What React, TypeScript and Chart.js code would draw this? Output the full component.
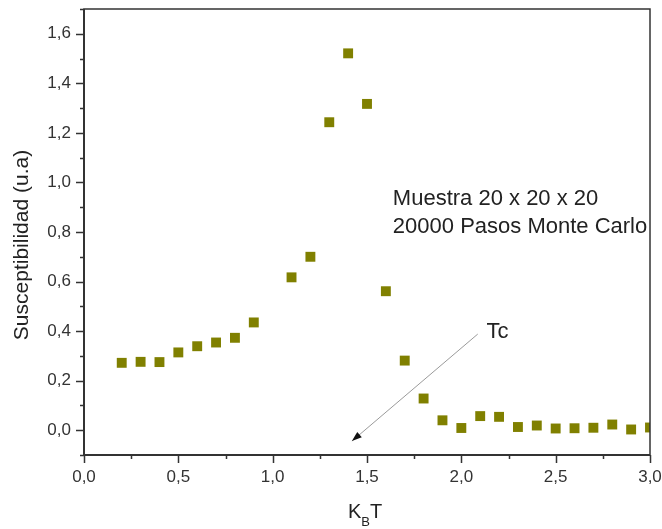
import React, { useEffect, useRef } from "react";
import { Chart, registerables } from "chart.js";

Chart.register(...registerables);

// Reduced temperature k_B T for each simulation run
const temperatures = [
  0.2, 0.3, 0.4, 0.5, 0.6, 0.7, 0.8, 0.9, 1.1, 1.2, 1.3, 1.4, 1.5, 1.6,
  1.7, 1.8, 1.9, 2.0, 2.1, 2.2, 2.3, 2.4, 2.5, 2.6, 2.7, 2.8, 2.9, 3.0,
];

// Magnetic susceptibility (arbitrary units)
const susceptibility = [
  0.272, 0.276, 0.275, 0.314, 0.339, 0.354, 0.373, 0.435, 0.617, 0.7,
  1.243, 1.521, 1.317, 0.561, 0.281, 0.128, 0.04, 0.009, 0.057, 0.054,
  0.013, 0.019, 0.007, 0.008, 0.01, 0.023, 0.003, 0.011,
];

const xRange = [0, 3];
const yRange = [-0.1, 1.7];

const noteLines = ["Muestra 20 x 20 x 20", "20000 Pasos Monte Carlo"];
const arrowLabel = "Tc";
const yTitle = "Susceptibilidad (u.a)";

const FONT = "'Liberation Sans', Arial, sans-serif";
const TEXT = "#222";
const MARKER = "#808000";

const fmt = (v: number) => v.toFixed(1).replace(".", ",");

// Frame, outward major/minor ticks and text annotations
const decorations = {
  id: "decorations",
  afterDraw(chart: any) {
    const { ctx, chartArea: a, scales } = chart;
    const xs = scales.x;
    const ys = scales.y;
    ctx.save();

    // frame
    ctx.strokeStyle = "#333";
    ctx.lineWidth = 1.5;
    ctx.strokeRect(a.left, a.top, a.right - a.left, a.bottom - a.top);
    ctx.lineWidth = 2;
    ctx.beginPath();
    ctx.moveTo(a.left, a.top);
    ctx.lineTo(a.left, a.bottom);
    ctx.lineTo(a.right, a.bottom);
    ctx.stroke();

    // y ticks
    ctx.lineWidth = 1.5;
    ctx.beginPath();
    ys.ticks.forEach((t: any) => {
      const k = Math.round(t.value * 10);
      const len = k % 2 === 0 ? 8 : 4;
      const py = Math.round(ys.getPixelForValue(t.value)) + 0.5;
      ctx.moveTo(a.left, py);
      ctx.lineTo(a.left - len, py);
    });
    // x ticks
    xs.ticks.forEach((t: any) => {
      const k = Math.round(t.value * 4);
      const len = k % 2 === 0 ? 8 : 4;
      const px = Math.round(xs.getPixelForValue(t.value)) + 0.5;
      ctx.moveTo(px, a.bottom);
      ctx.lineTo(px, a.bottom + len);
    });
    ctx.stroke();

    // arrow toward the critical temperature
    const x0 = xs.getPixelForValue(2.087);
    const y0 = ys.getPixelForValue(0.388);
    const x1 = xs.getPixelForValue(1.42);
    const y1 = ys.getPixelForValue(-0.044);
    ctx.strokeStyle = "#9a9a9a";
    ctx.lineWidth = 1;
    ctx.beginPath();
    ctx.moveTo(x0, y0);
    ctx.lineTo(x1, y1);
    ctx.stroke();
    const ang = Math.atan2(y1 - y0, x1 - x0);
    const hl = 10;
    const hw = 3.5;
    ctx.fillStyle = "#111";
    ctx.beginPath();
    ctx.moveTo(x1, y1);
    ctx.lineTo(
      x1 - hl * Math.cos(ang) + hw * Math.sin(ang),
      y1 - hl * Math.sin(ang) - hw * Math.cos(ang)
    );
    ctx.lineTo(
      x1 - hl * Math.cos(ang) - hw * Math.sin(ang),
      y1 - hl * Math.sin(ang) + hw * Math.cos(ang)
    );
    ctx.closePath();
    ctx.fill();

    // text annotations
    ctx.fillStyle = TEXT;
    ctx.textBaseline = "middle";
    ctx.textAlign = "left";
    ctx.font = `22px ${FONT}`;
    ctx.fillText(arrowLabel, xs.getPixelForValue(2.134), ys.getPixelForValue(0.396));
    ctx.fillText(noteLines[0], xs.getPixelForValue(1.637), ys.getPixelForValue(0.933));
    ctx.fillText(noteLines[1], xs.getPixelForValue(1.637), ys.getPixelForValue(0.82));

    // y-axis title
    ctx.save();
    ctx.translate(22, 245);
    ctx.rotate(-Math.PI / 2);
    ctx.textAlign = "center";
    ctx.font = `21px ${FONT}`;
    ctx.fillText(yTitle, 0, 0);
    ctx.restore();

    // x-axis title k_B T with subscript
    ctx.textBaseline = "alphabetic";
    ctx.textAlign = "left";
    const big = `20px ${FONT}`;
    const small = `13px ${FONT}`;
    ctx.font = big;
    const wK = ctx.measureText("K").width;
    const wT = ctx.measureText("T").width;
    ctx.font = small;
    const wB = ctx.measureText("B").width;
    const total = wK + wB + wT;
    let cx = 365 - total / 2;
    const base = 518;
    ctx.font = big;
    ctx.fillText("K", cx, base);
    cx += wK;
    ctx.font = small;
    ctx.fillText("B", cx, base + 8);
    cx += wB;
    ctx.font = big;
    ctx.fillText("T", cx, base);

    ctx.restore();
  },
};

export default function App() {
  const ref = useRef<HTMLCanvasElement | null>(null);

  useEffect(() => {
    if (!ref.current) return;
    const chart = new Chart(ref.current, {
      type: "scatter",
      data: {
        datasets: [
          {
            data: temperatures.map((t, i) => ({ x: t, y: susceptibility[i] })),
            pointStyle: "rect",
            pointRadius: 7,
            pointBackgroundColor: MARKER,
            pointBorderColor: MARKER,
            pointBorderWidth: 0,
            clip: 0,
          },
        ],
      },
      options: {
        animation: false,
        responsive: true,
        maintainAspectRatio: false,
        layout: { padding: { left: 0, right: 12, top: 9, bottom: 0 } },
        plugins: { legend: { display: false }, tooltip: { enabled: false } },
        scales: {
          x: {
            type: "linear",
            min: xRange[0],
            max: xRange[1],
            border: { display: false },
            grid: { display: false, drawTicks: false, tickLength: 0 },
            ticks: {
              stepSize: 0.25,
              autoSkip: false,
              maxRotation: 0,
              padding: 12,
              color: "#333",
              font: { family: FONT, size: 17 },
              callback: (v: any) => (Math.round(Number(v) * 4) % 2 === 0 ? fmt(Number(v)) : ""),
            },
            afterFit: (s: any) => {
              s.height = 74;
              s.paddingLeft = 0;
              s.paddingRight = 0;
              s.paddingTop = 0;
              s.paddingBottom = 0;
            },
          },
          y: {
            type: "linear",
            min: yRange[0],
            max: yRange[1],
            border: { display: false },
            grid: { display: false, drawTicks: false, tickLength: 0 },
            ticks: {
              stepSize: 0.1,
              autoSkip: false,
              padding: 13,
              color: "#333",
              font: { family: FONT, size: 17 },
              callback: (v: any) => {
                const k = Math.round(Number(v) * 10);
                return k >= 0 && k % 2 === 0 ? fmt(k / 10) : "";
              },
            },
            afterFit: (s: any) => {
              s.width = 84;
              s.paddingLeft = 0;
              s.paddingRight = 0;
              s.paddingTop = 0;
              s.paddingBottom = 0;
            },
          },
        },
      },
      plugins: [decorations],
    });
    return () => chart.destroy();
  }, []);

  return (
    <div style={{ position: "fixed", left: 0, top: 0, width: 662, height: 529, background: "#fff" }}>
      <canvas ref={ref} />
    </div>
  );
}
